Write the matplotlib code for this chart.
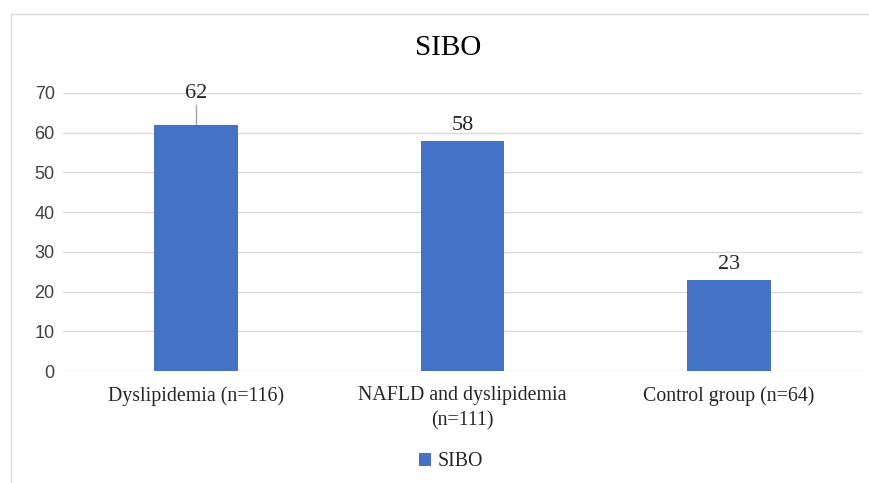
import numpy as np
import matplotlib.pyplot as plt
from matplotlib.lines import Line2D

# Données
categories = ["Dyslipidemia (n=116)", "NAFLD and dyslipidemia\n(n=111)", "Control group (n=64)"]
sibo = [62, 58, 23]
yticks = [0, 10, 20, 30, 40, 50, 60, 70]

bleu = "#4472C4"
serif = "Liberation Serif"
sans = "Liberation Sans"

fig = plt.figure(figsize=(8.7, 4.83), dpi=100)
ax = fig.add_axes([63 / 870, 1 - 371 / 483, 799 / 870, 278 / 483])

x = np.arange(len(categories))
bars = ax.bar(x, sibo, width=0.315, color=bleu, label="SIBO", zorder=3)

ax.set_xlim(-0.5, len(categories) - 0.5)
ax.set_ylim(0, 70)
ax.set_yticks(yticks)
ax.set_yticklabels([str(t) for t in yticks], fontfamily=sans, fontsize=13, color="#404040")
ax.set_xticks(x)
ax.set_xticklabels(categories, fontfamily=serif, fontsize=14.3, color="#262626", linespacing=1.4)
ax.tick_params(axis="both", length=0)
ax.tick_params(axis="y", pad=6)
ax.tick_params(axis="x", pad=11)

ax.grid(axis="y", color="#d9d9d9", linewidth=1, zorder=0)
for s in ax.spines.values():
    s.set_visible(False)

# Étiquettes des valeurs
for i, v in enumerate(sibo):
    if i == 0:
        ax.text(x[i], v + 5.6, str(v), ha="center", va="bottom", fontfamily=serif, fontsize=16, color="#262626")
        ax.plot([x[i], x[i]], [v, v + 5.1], color="#a6a6a6", linewidth=1, zorder=2)
    else:
        ax.text(x[i], v + 1.5, str(v), ha="center", va="bottom", fontfamily=serif, fontsize=16, color="#262626")

# Titre
fig.text(448 / 870, 1 - 48 / 483, "SIBO", ha="center", va="center", fontfamily=serif, fontsize=21, color="#000000")

# Légende
fig.legend(handles=[bars], labels=["SIBO"], loc="center", bbox_to_anchor=(451 / 870, 1 - 462 / 483),
           frameon=False, prop={"family": serif, "size": 14.3}, handlelength=0.6, handleheight=0.6,
           handletextpad=0.3, labelcolor="#262626")

# Cadre du graphique
fig.add_artist(Line2D([11 / 870, 11 / 870], [0, 1 - 14 / 483], transform=fig.transFigure, color="#d9d9d9", linewidth=1))
fig.add_artist(Line2D([11 / 870, 1], [1 - 14 / 483, 1 - 14 / 483], transform=fig.transFigure, color="#d9d9d9", linewidth=1))

fig.savefig("out.png", dpi=100)
